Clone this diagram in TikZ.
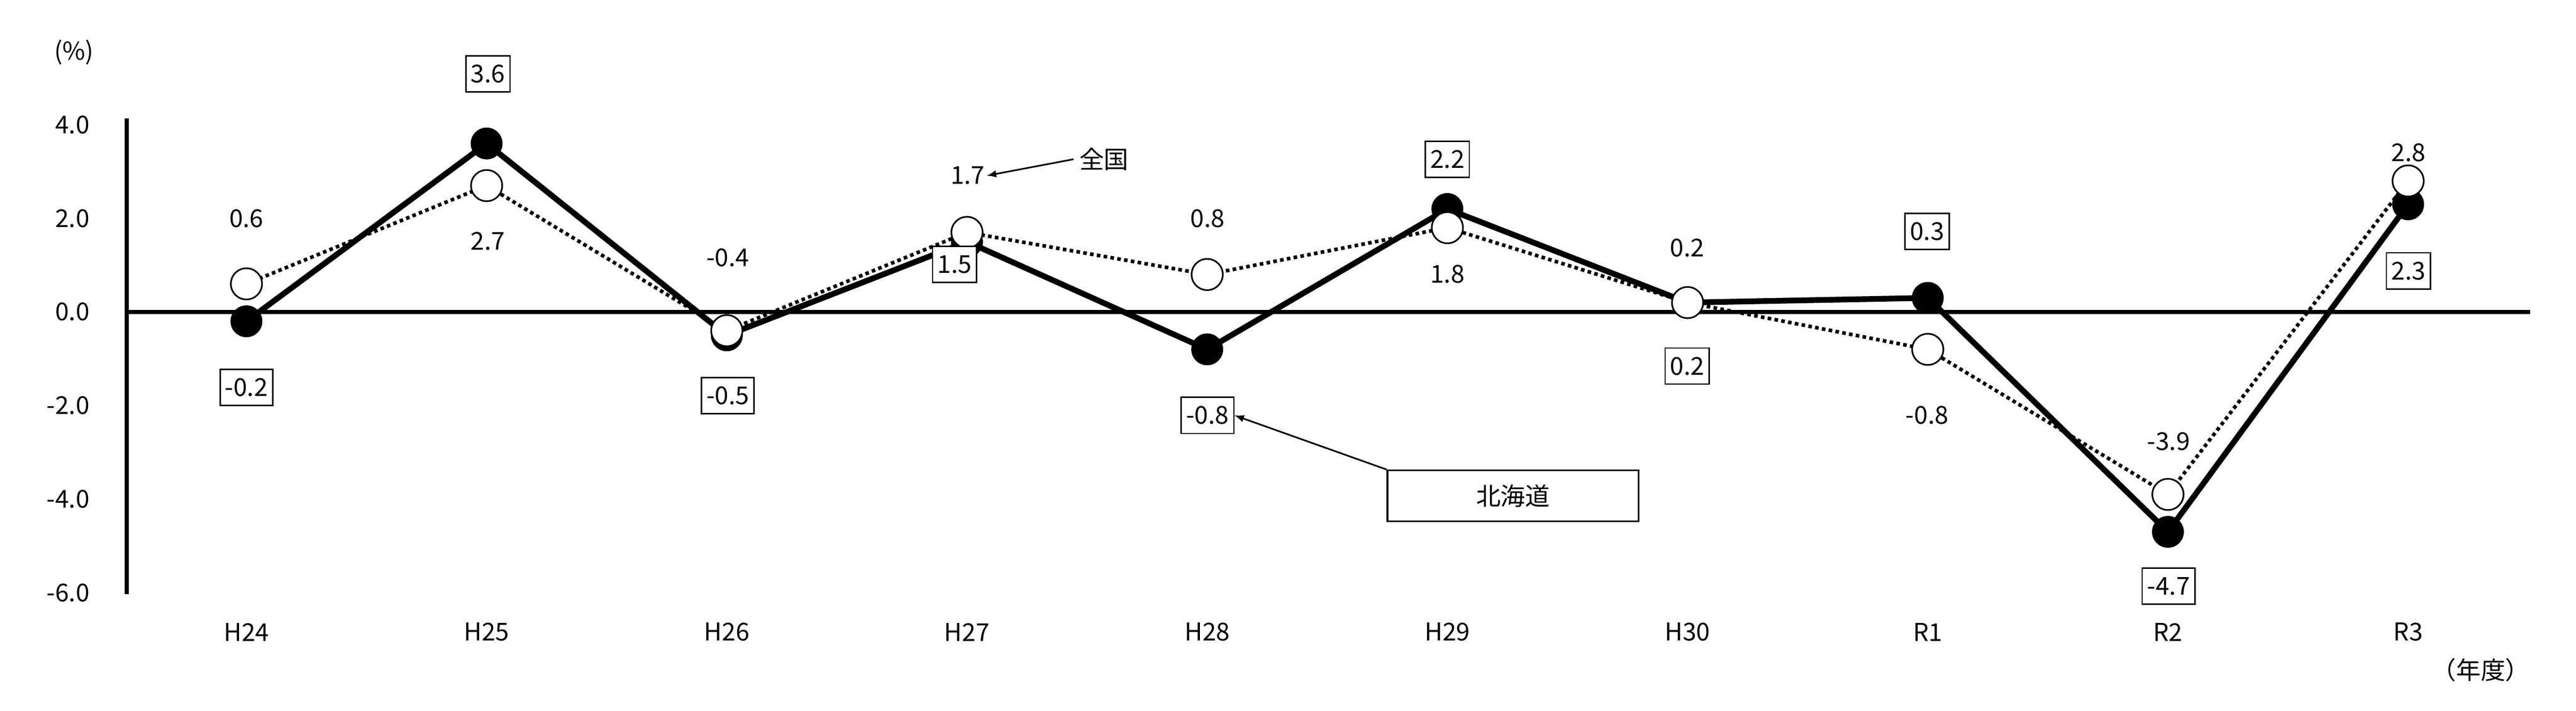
\documentclass[tikz,border=0pt]{standalone}
\usepackage{fontspec}
\setmainfont{Noto Sans CJK JP}
\begin{document}
\begin{tikzpicture}[x=1pt,y=-1pt,font=\fontsize{15}{16}\selectfont,
  hk/.style={line width=3.5pt},
  zk/.style={line width=2.2pt,dotted},
  hdot/.style={circle,fill=black,draw=black,inner sep=0pt,minimum size=19pt},
  zdot/.style={circle,fill=white,draw=black,line width=1pt,inner sep=0pt,minimum size=19pt},
  bx/.style={draw,line width=0.8pt,fill=white,inner sep=3pt,minimum height=22pt},
  lb/.style={inner sep=1pt}]
\useasboundingbox (0,0) rectangle (1568,433);
\draw[line width=2.5pt] (77,72) -- (77,362);
\draw[line width=2.5pt] (77,190) -- (1540,190);
\foreach \v/\t in {4/4.0,2/2.0,0/0.0,-2/-2.0,-4/-4.0,-6/-6.0}
  \node[anchor=east] (yt\v) at (58,190-28.5*\v) {\t};
\node (pct) at (45,32) {(\%)};
\node (nendo) at (1510,408) {（年度）};
\def\H{-0.2,3.6,-0.5,1.5,-0.8,2.2,0.2,0.3,-4.7,2.3}
\def\Z{0.6,2.7,-0.4,1.7,0.8,1.8,0.2,-0.8,-3.9,2.8}
\foreach \n [count=\i] in {H24,H25,H26,H27,H28,H29,H30,R1,R2,R3}
  \node (c\i) at (150+146.2*\i-146.2,385) {\n};
\foreach \v [count=\i] in \H \coordinate (h\i) at (150+146.2*\i-146.2,190-28.5*\v);
\foreach \v [count=\i] in \Z \coordinate (z\i) at (150+146.2*\i-146.2,190-28.5*\v);
\draw[zk] (z1)--(z2)--(z3)--(z4)--(z5)--(z6)--(z7)--(z8)--(z9)--(z10);
\draw[hk,line join=round] (h1)--(h2)--(h3)--(h4)--(h5)--(h6)--(h7)--(h8)--(h9)--(h10);
\foreach \i in {1,...,10} {\node[hdot] (H\i) at (h\i) {}; \node[zdot] (Z\i) at (z\i) {};}
% national labels
\node[lb] (l1) at (150,133) {0.6};
\node[lb] (l2) at (297,147) {2.7};
\node[lb] (l3) at (443,157) {-0.4};
\node[lb] (l4) at (589,107) {1.7};
\node[lb] (l5) at (735,133) {0.8};
\node[lb] (l6) at (881,167) {1.8};
\node[lb] (l7) at (1027,151) {0.2};
\node[lb] (l8) at (1173,253) {-0.8};
\node[lb] (l9) at (1320,269) {-3.9};
\node[lb] (l10) at (1466,93) {2.8};
% hokkaido boxes
\node[bx] (b1) at (150,236) {-0.2};
\node[bx] (b2) at (297,45) {3.6};
\node[bx] (b3) at (443,241) {-0.5};
\node[bx] (b4) at (581,161) {1.5};
\node[bx] (b5) at (735,253) {-0.8};
\node[bx] (b6) at (881,97) {2.2};
\node[bx] (b7) at (1027,223) {0.2};
\node[bx] (b8) at (1173,141) {0.3};
\node[bx] (b9) at (1320,357) {-4.7};
\node[bx] (b10) at (1466,165) {2.3};
\node (zk) at (672,97) {全国};
\draw[-latex,line width=1pt] (zk.west) -- (l4.east);
\node[draw,line width=1pt,minimum width=153pt,minimum height=31pt] (hkd) at (921,302) {北海道};
\draw[-latex,line width=1pt] (hkd.north west) -- (b5.east);
\end{tikzpicture}
\end{document}
